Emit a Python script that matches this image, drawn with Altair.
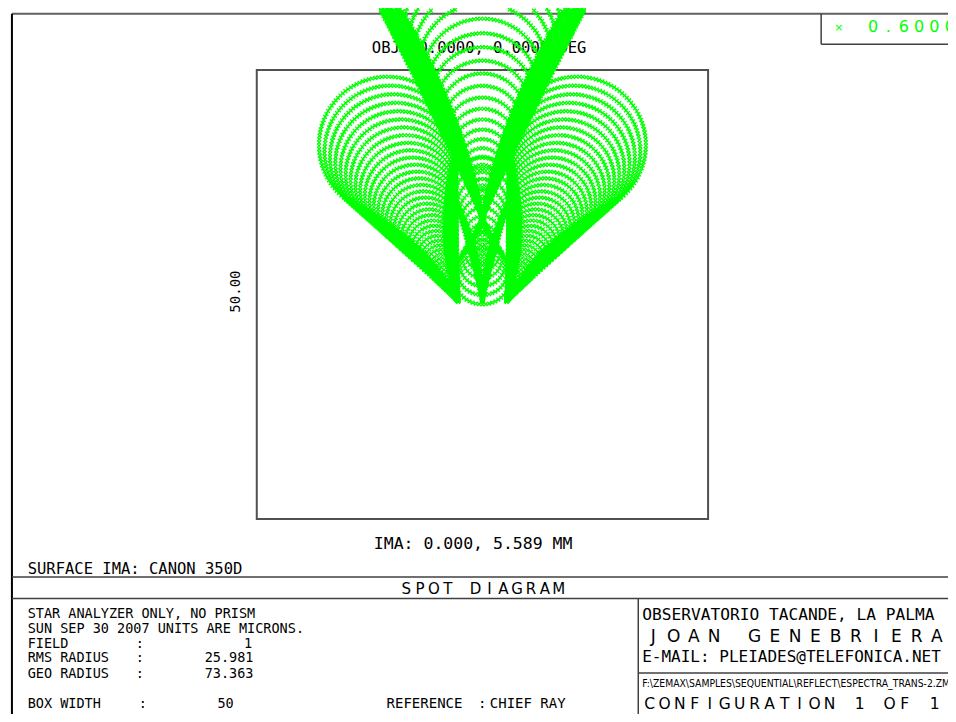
import numpy as np
import pandas as pd
import altair as alt

# ---------------- layout constants (reference picture is 956 x 722) -------------
W, H = 940, 706            # chart size (page has 8px margin)
REF_W, REF_H = 956, 722
PX_PER_UM = 9.18           # box of 50 microns = 459 px in reference
BOX_CX, BOX_CY = 482.5, 293.0

def xd(x):  # reference pixel -> microns
    return (x - BOX_CX) / PX_PER_UM

def yd(y):
    return (BOX_CY - y) / PX_PER_UM

XDOM = [xd(0), xd(REF_W)]
YDOM = [yd(REF_H), yd(0)]
xs = alt.Scale(domain=XDOM, range=[0, W], nice=False, zero=False)
ys = alt.Scale(domain=YDOM, range=[H, 0], nice=False, zero=False)

# ---------------- spot diagram data (microns) ----------------
# each family = a fan of pupil rings mapped to tear-drop curves
fam_name      = ["centre", "triangle", "left", "right", "neck"]
fam_apex_x    = [0.0, 0.0, -2.67, 2.67, 0.0]
fam_apex_y    = [8.5, 8.5, -0.76, -0.76, -0.76]
fam_axis_deg  = [0.0, 180.0, -24.2, 24.2, 0.0]
fam_alpha_in  = [24.0, 26.0, 22.0, 22.0, 12.0]
fam_alpha_out = [26.5, 30.0, 23.5, 23.5, 15.0]
fam_bend      = [0.65, 0.45, 0.9, 0.9, 0.9]
fam_sub       = [2, 1, 3, 3, 2]          # edge sub-fans per ring
fam_reach_um  = [64.5, 9.6, 26.7, 26.7, 16.0]
fam_rings     = [46, 18, 50, 50, 26]
STEP_UM = 0.36
BOX_WIDTH_UM = 50

rows = []
for i in range(len(fam_name)):
    ang = np.radians(fam_axis_deg[i])
    u = np.array([np.sin(ang), np.cos(ang)])
    n = np.array([u[1], -u[0]])
    N = fam_rings[i]
    for k in range(1, N + 1):
        t = k / N
        al = np.radians(fam_alpha_in[i] + (fam_alpha_out[i] - fam_alpha_in[i]) * t)
        reach = fam_reach_um[i] * t * t
        D = reach / (1 + np.sin(al))
        R = D * np.sin(al)
        phimax = np.pi / 2 + al
        ncap = max(3, int(R * 2 * phimax / STEP_UM))
        phi = np.linspace(-phimax, phimax, ncap)
        U = [D + R * np.cos(phi)]
        V = [R * np.sin(phi)]
        ut = D * np.cos(al) ** 2
        ne = max(2, int(ut / np.cos(al) / STEP_UM))
        eu = np.linspace(0, ut, ne, endpoint=False)
        M = fam_sub[i]
        for j in range(M):
            b = fam_bend[i] * (j + 1) / M
            ev = eu * np.tan(al) * (1 - b + b * eu / ut)
            U += [eu, eu]
            V += [ev, -ev]
        U = np.concatenate(U)
        V = np.concatenate(V)
        X = fam_apex_x[i] + U * u[0] + V * n[0]
        Y = fam_apex_y[i] + U * u[1] + V * n[1]
        rows.append(pd.DataFrame({"x": X, "y": Y}))
spots = pd.concat(rows, ignore_index=True)
spots = spots[(spots.x > XDOM[0]) & (spots.x < XDOM[1]) &
              (spots.y > YDOM[0]) & (spots.y < YDOM[1] - 0.05)].round(2)
spots = spots.drop_duplicates()

# ---------------- frame lines (reference pixel coords) ----------------
seg_x1 = [4, 4, 827, 827, 4, 4, 641, 641]
seg_y1 = [6, 6, 6, 37, 582, 604, 604, 680]
seg_x2 = [956, 4, 827, 956, 956, 956, 641, 956]
seg_y2 = [6, 722, 37, 37, 582, 604, 722, 680]
seg_col = ["#606060", "#000000", "#404040", "#404040", "#404040", "#404040", "#404040", "#404040"]
seg_w = [2, 2, 1.5, 1.5, 1.5, 1.5, 1.5, 1.5]
segs = pd.DataFrame({
    "x": [xd(v) for v in seg_x1], "y": [yd(v) for v in seg_y1],
    "x2": [xd(v) for v in seg_x2], "y2": [yd(v) for v in seg_y2],
    "c": seg_col, "w": seg_w})

box = pd.DataFrame({"x": [-BOX_WIDTH_UM / 2], "x2": [BOX_WIDTH_UM / 2],
                    "y": [-BOX_WIDTH_UM / 2], "y2": [BOX_WIDTH_UM / 2]})

# ---------------- texts ----------------
txt_text = ["OBJ: 0.0000, 0.0000 DEG", "IMA: 0.000, 5.589 MM", "SURFACE IMA: CANON 350D",
            "STAR ANALYZER ONLY, NO PRISM", "SUN SEP 30 2007  UNITS ARE MICRONS.",
            "FIELD", "RMS RADIUS", "GEO RADIUS", "BOX WIDTH",
            ":", ":", ":", ":", "1", "25.981", "73.363", "50",
            "REFERENCE", ":", "CHIEF RAY",
            "OBSERVATORIO TACANDE, LA PALMA", "E-MAIL: PLEIADES@TELEFONICA.NET"]
txt_x = [370, 372, 20, 20, 20, 20, 20, 20, 20, 130, 130, 130, 133, 240, 200, 200, 213,
         385, 478, 490, 645, 645]
txt_y = [41, 548, 574, 620, 635, 650, 665, 681, 712, 650, 665, 681, 712, 650, 665, 681, 712,
         712, 712, 712, 621, 664]
txt_size = [15.5, 16.5, 15.5, 13.5, 13.5, 13.5, 13.5, 13.5, 13.5, 13.5, 13.5, 13.5, 13.5,
            13.5, 13.5, 13.5, 13.5, 14, 14, 14, 16.2, 16.0]
texts = pd.DataFrame({"x": [xd(v) for v in txt_x], "y": [yd(v) for v in txt_y],
                      "t": txt_text, "s": txt_size})

path_text = r"F:\ZEMAX\SAMPLES\SEQUENTIAL\REFLECT\ESPECTRA_TRANS-2.ZMX"
path_df = pd.DataFrame({"x": [xd(645)], "y": [yd(691)], "t": [path_text]})

side_label = pd.DataFrame({"x": [xd(232)], "y": [yd(290)], "t": ["50.00"]})

# wide lettered titles: (text, first cell left x, pitch, centre y, size, colour)
wide_text  = ["SPOT DIAGRAM", "JOAN GENEBRIERA", "CONFIGURATION 1 OF 1", "0.6000", "\u00d7"]
wide_x0    = [398, 646, 645, 872, 838]
wide_pitch = [14.1, 20.6, 15.25, 15.6, 14]
wide_y     = [594, 643, 712, 19, 20]
wide_size  = [15, 17, 15.5, 16, 11]
wide_col   = ["#000000", "#000000", "#000000", "#00ff00", "#00ff00"]
wrows = []
for t, x0, p, y, sz, c in zip(wide_text, wide_x0, wide_pitch, wide_y, wide_size, wide_col):
    for j, ch in enumerate(t):
        if ch == " ":
            continue
        wrows.append({"x": xd(x0 + p * (j + 0.5)), "y": yd(y), "t": ch, "s": sz, "c": c})
wide = pd.DataFrame(wrows)

X = lambda f="x": alt.X(f"{f}:Q", scale=xs, axis=None)
Y = lambda f="y": alt.Y(f"{f}:Q", scale=ys, axis=None)

rules = alt.Chart(segs).mark_rule().encode(
    x=X(), y=Y(), x2="x2:Q", y2="y2:Q",
    color=alt.Color("c:N", scale=None), strokeWidth=alt.StrokeWidth("w:Q", scale=None))

box_l = alt.Chart(box).mark_rect(fill=None, stroke="#505050", strokeWidth=2).encode(
    x=X(), x2="x2:Q", y=Y(), y2="y2:Q")

mono = "DejaVu Sans Mono"
text_l = alt.Chart(texts).mark_text(align="left", baseline="middle", font=mono, color="#000000").encode(
    x=X(), y=Y(), text="t:N", size=alt.Size("s:Q", scale=None))

path_l = alt.Chart(path_df).mark_text(align="left", baseline="middle", fontSize=10.3,
                                      font="DejaVu Sans Condensed, Liberation Sans Narrow, DejaVu Sans Mono",
                                      color="#000000").encode(x=X(), y=Y(), text="t:N")

side_l = alt.Chart(side_label).mark_text(align="center", baseline="middle", angle=270, fontSize=14,
                                         font=mono, color="#000000").encode(x=X(), y=Y(), text="t:N")

wide_l = alt.Chart(wide).mark_text(align="center", baseline="middle", font="DejaVu Sans").encode(
    x=X(), y=Y(), text="t:N", size=alt.Size("s:Q", scale=None), color=alt.Color("c:N", scale=None))

pts = alt.Chart(spots).mark_point(shape="M-1,-1L1,1M-1,1L1,-1", filled=False, size=14,
                                  strokeWidth=1.3, color="#00ff00", opacity=1, clip=True).encode(
    x=X(), y=Y())

chart = alt.layer(rules, box_l, text_l, path_l, side_l, wide_l, pts).properties(
    width=W, height=H, autosize=alt.AutoSizeParams(type="none"), padding=0,
    background="white"
).configure_view(stroke=None)

chart.save("out.html", embed_options={"renderer": "svg", "actions": False})
